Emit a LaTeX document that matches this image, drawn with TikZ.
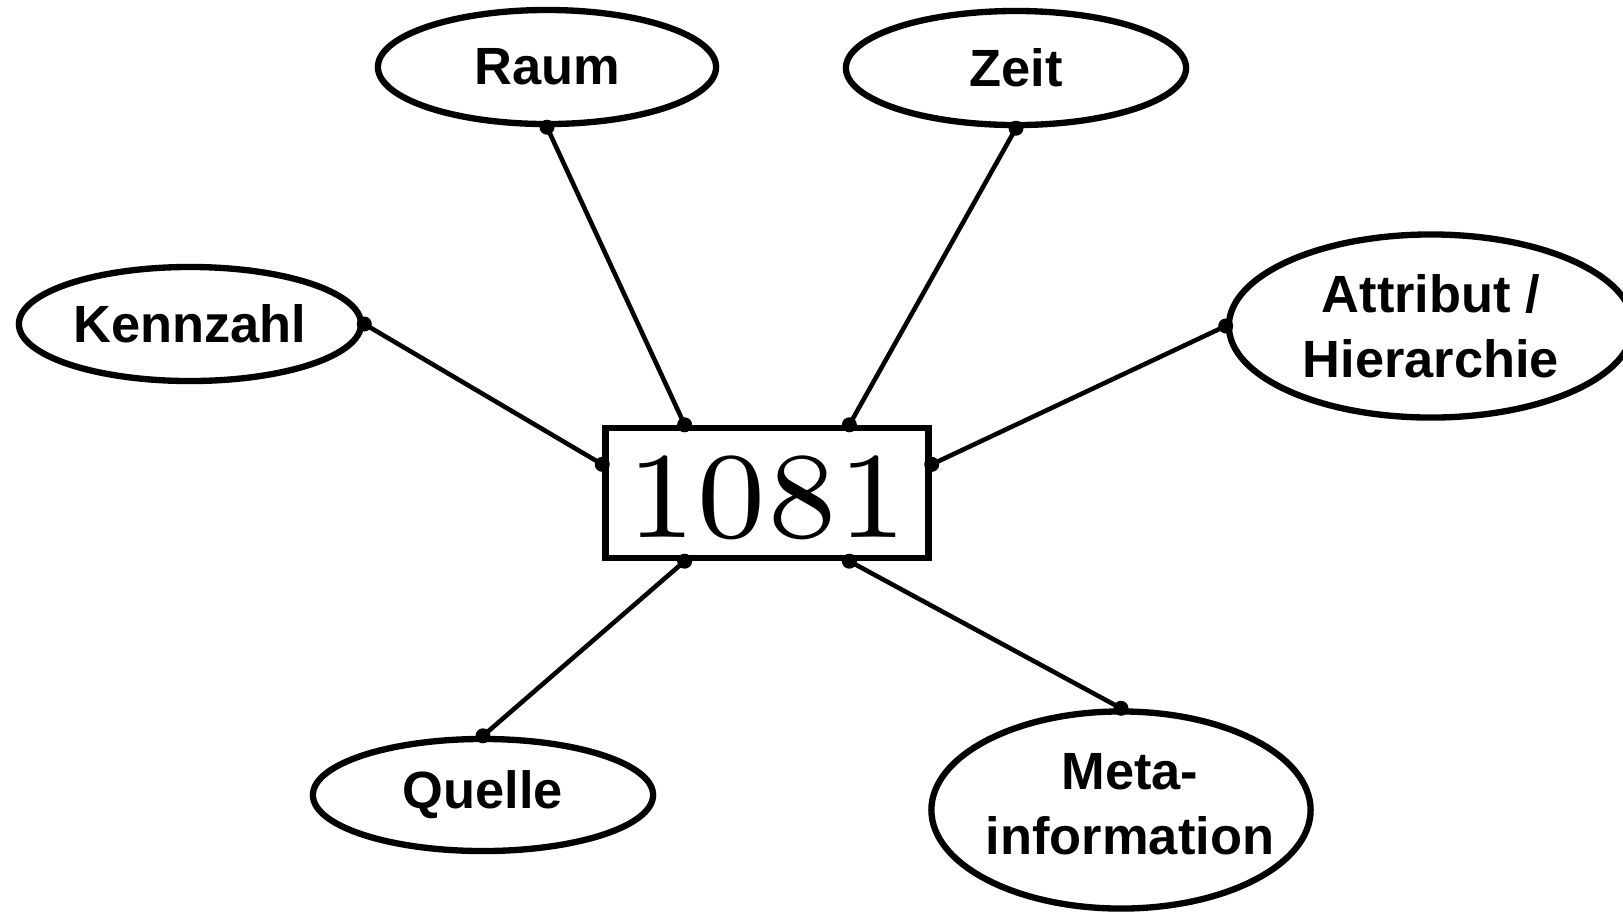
\documentclass[tikz,border=0pt]{standalone}
\usepackage{fontspec}
\setsansfont{Liberation Sans}
\newfontfamily\zahlfont{lmroman7-regular.otf}
\usetikzlibrary{shapes.geometric, calc}

\begin{document}
\begin{tikzpicture}[x=0.01cm, y=-0.01cm,
  feld/.style={ellipse, draw, line width=1.8pt, inner sep=-5mm, align=center,
    font=\sffamily\bfseries\fontsize{14.9}{18.5}\selectfont},
  verb/.style={line width=1.3pt},
  punkt/.style={fill=black}]
\useasboundingbox (0,0) rectangle (1623,914);
% central number
\node [draw, line width=1.8pt, minimum width=3.23cm, minimum height=1.30cm, inner sep=0pt,
  text height=25.5pt, text depth=0pt, font=\zahlfont\fontsize{35}{42}\selectfont] (Z) at (767,493) {1081};
% dimensions
\node [feld, minimum width=3.38cm, minimum height=1.14cm] (R) at (547,67) {Raum};
\node [feld, minimum width=3.40cm, minimum height=1.14cm] (T) at (1016,68) {Zeit};
\node [feld, minimum width=3.42cm, minimum height=1.14cm] (K) at (190,324) {Kennzahl};
\node [feld, minimum width=4.04cm, minimum height=1.83cm] (A) at (1431,326) {Attribut /\\Hierarchie};
\node [feld, minimum width=3.40cm, minimum height=1.12cm] (Q) at (483,795) {Quelle};
\node [feld, minimum width=3.79cm, minimum height=1.97cm, text depth=3.5pt] (M) at (1121,810) {\hspace*{1.8mm}Meta-\\\hspace*{1.8mm}information};
% docking points on the box
\coordinate (Zo1) at ($(Z.north west)!0.25!(Z.north east)$);
\coordinate (Zo2) at ($(Z.north west)!0.75!(Z.north east)$);
\coordinate (Zu1) at ($(Z.south west)!0.25!(Z.south east)$);
\coordinate (Zu2) at ($(Z.south west)!0.75!(Z.south east)$);
\coordinate (Zl) at ($(Z.north west)!0.29!(Z.south west)$);
\coordinate (Zr) at ($(Z.north east)!0.29!(Z.south east)$);
\draw [verb] (R.south) -- (Zo1);
\draw [verb] (T.south) -- (Zo2);
\draw [verb] (K.east) -- (Zl);
\draw [verb] (A.west) -- (Zr);
\draw [verb] (Q.north) -- (Zu1);
\draw [verb] (M.north) -- (Zu2);
\foreach \p in {Zo1, Zo2, Zu1, Zu2, Zl, Zr, R.south, T.south, K.east, A.west, Q.north, M.north}
  \fill [punkt] (\p) circle (0.75mm);
\end{tikzpicture}
\end{document}
